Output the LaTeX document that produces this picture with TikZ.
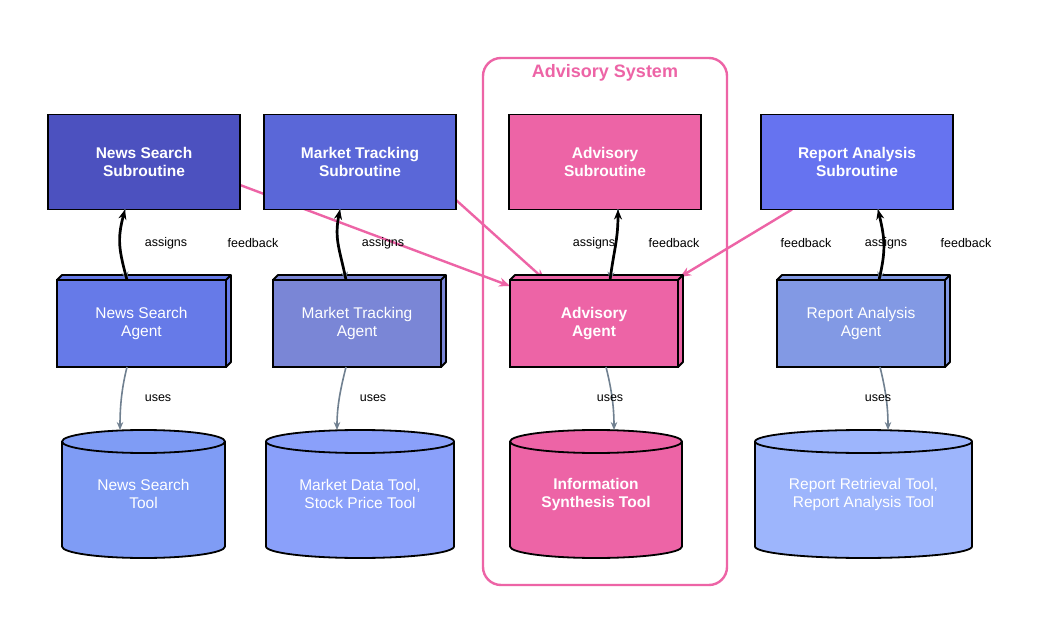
\documentclass[tikz,border=0pt]{standalone}
\usepackage{fontspec}
\setmainfont{Liberation Sans}
\usetikzlibrary{shapes.geometric, arrows.meta, positioning, calc}
\pgfdeclarelayer{paper}
\pgfdeclarelayer{background}
\pgfsetlayers{paper,background,main}

\definecolor{newssub}{HTML}{4C51BF}
\definecolor{marketsub}{HTML}{5A67D8}
\definecolor{reportsub}{HTML}{6673F0}
\definecolor{newsagent}{HTML}{667AE8}
\definecolor{marketagent}{HTML}{7A86D6}
\definecolor{reportagent}{HTML}{8299E4}
\definecolor{newstool}{HTML}{7F9CF5}
\definecolor{markettool}{HTML}{8AA0FA}
\definecolor{reporttool}{HTML}{9DB5FC}
\definecolor{advpink}{HTML}{ED64A6}
\definecolor{slate}{HTML}{708090}

\begin{document}
\begin{tikzpicture}[
    x=1pt, y=-1pt,
    font=\fontsize{15.5}{18}\selectfont,
    subroutine/.style={rectangle, draw, line width=1.8pt, outer sep=0pt, minimum width=192pt, minimum height=95pt, align=center, text=white, font=\fontsize{15.5}{18}\selectfont\bfseries},
    agent/.style={rectangle, draw, line width=1.8pt, outer sep=0pt, minimum width=168pt, minimum height=87pt, align=center, text=white},
    tool/.style={rectangle, outer sep=0pt, minimum height=128pt, align=center, text=white},
    edgelabel/.style={font=\fontsize{12.5}{14}\selectfont, text=black},
    feedback/.style={-{Stealth[length=10pt,width=8pt]}, line width=2.7pt},
    assign/.style={-{Stealth[length=8pt,width=7pt]}, line width=1.6pt, draw=slate},
    uses/.style={-{Stealth[length=8pt,width=6.5pt]}, line width=1.6pt, draw=slate},
    link/.style={-{Stealth[length=11pt,width=9pt]}, line width=2.4pt, draw=advpink}
]
\begin{pgfonlayer}{paper}
\fill[white] (0,0) rectangle (1041,644);
\end{pgfonlayer}
\useasboundingbox (0,0) rectangle (1041,644);

% advisory group
\node[draw=advpink, line width=2.4pt, rounded corners=18pt, minimum width=244pt, minimum height=527pt] (advbox) at (605,321.5) {};
\node[text=advpink, font=\fontsize{18}{20}\selectfont\bfseries] (advtitle) at ($(advbox.north)+(0,16)$) {Advisory System};

% subroutines
\node[subroutine, fill=newssub] (nsub) at (144,162) {News Search\\Subroutine};
\node[subroutine, fill=marketsub] (msub) at (360,162) {Market Tracking\\Subroutine};
\node[subroutine, fill=advpink] (asub) at (605,162) {Advisory\\Subroutine};
\node[subroutine, fill=reportsub] (rsub) at (857,162) {Report Analysis\\Subroutine};

% agents
\node[agent, fill=newsagent, minimum width=169pt] (nagent) at (141.5,323.5) {News Search\\Agent};
\node[agent, fill=marketagent] (magent) at (357,323.5) {Market Tracking\\Agent};
\node[agent, fill=advpink, font=\fontsize{15.5}{18}\selectfont\bfseries] (aagent) at (594,323.5) {Advisory\\Agent};
\node[agent, fill=reportagent] (ragent) at (861,323.5) {Report Analysis\\Agent};

\foreach \a/\c in {nagent/newsagent, magent/marketagent, aagent/advpink, ragent/reportagent}{
  \filldraw[fill=\c, line width=1.8pt, line join=round] (\a.north west) -- ++(5,-5) -- ($(\a.north east)+(5,-5)$) -- ($(\a.south east)+(5,-5)$) -- (\a.south east) -- (\a.north east) -- cycle;
  \draw[line width=1.8pt] (\a.north east) -- ++(5,-5);
}

% tools
\node[tool, minimum width=163pt] (ntool) at (143.5,494) {News Search\\Tool};
\node[tool, minimum width=188pt] (mtool) at (360,494) {Market Data Tool,\\Stock Price Tool};
\node[tool, minimum width=172pt, font=\fontsize{15.5}{18}\selectfont\bfseries] (stool) at (596,494) {Information\\Synthesis Tool};
\node[tool, minimum width=217pt] (rtool) at (863.5,494) {Report Retrieval Tool,\\Report Analysis Tool};

\begin{pgfonlayer}{background}
\foreach \n/\c/\r in {ntool/newstool/81.5, mtool/markettool/94, stool/advpink/86, rtool/reporttool/108.5}{
  \filldraw[fill=\c, line width=1.8pt] ($(\n.north west)+(0,11.5)$) -- ($(\n.south west)+(0,-11.5)$) arc[start angle=180, end angle=0, x radius=\r, y radius=11.5] -- ($(\n.north east)+(0,11.5)$) arc[start angle=0, end angle=-180, x radius=\r, y radius=11.5] -- cycle;
  \draw[line width=1.8pt] ($(\n.north west)+(0,11.5)$) arc[start angle=180, end angle=0, x radius=\r, y radius=11.5];
}

% links into the advisory agent
\draw[link] ($(nsub.east)+(0,23)$) -- ($(aagent.north west)+(0,6)$);
\draw[link] ($(msub.east)+(0,38)$) -- ($(aagent.north west)+(35,0)$);
\draw[link] ($(rsub.south west)+(31,0)$) -- ($(aagent.north east)+(2,-3)$);
\end{pgfonlayer}

% assigns / feedback
\draw[assign] ($(nsub.south)+(-19,0)$) .. controls +(-8,30) and +(-8,-30) .. ($(nagent.north)+(-14.5,0)$);
\draw[feedback] ($(nagent.north)+(-14.5,0)$) .. controls +(-8,-30) and +(-8,30) .. ($(nsub.south)+(-19,0)$);
\draw[assign] ($(msub.south)+(-20,0)$) .. controls +(-6,30) and +(-6,-30) .. ($(magent.north)+(-11,0)$);
\draw[feedback] ($(magent.north)+(-11,0)$) .. controls +(-6,-30) and +(-6,30) .. ($(msub.south)+(-20,0)$);
\draw[assign] ($(asub.south)+(13,0)$) .. controls +(0,30) and +(4,-30) .. ($(aagent.north)+(16,0)$);
\draw[feedback] ($(aagent.north)+(16,0)$) .. controls +(4,-30) and +(0,30) .. ($(asub.south)+(13,0)$);
\draw[assign] ($(rsub.south)+(21,0)$) .. controls +(7,30) and +(7,-30) .. ($(ragent.north)+(18,0)$);
\draw[feedback] ($(ragent.north)+(18,0)$) .. controls +(7,-30) and +(7,30) .. ($(rsub.south)+(21,0)$);

% uses
\draw[uses] ($(nagent.south)+(-14.5,0)$) .. controls +(-5,20) and +(0,-25) .. ($(ntool.north)+(-23.5,0)$);
\draw[uses] ($(magent.south)+(-11,0)$) .. controls +(-5,20) and +(0,-25) .. ($(mtool.north)+(-23,0)$);
\draw[uses] ($(aagent.south)+(12,0)$) .. controls +(5,20) and +(0,-25) .. ($(stool.north)+(18,0)$);
\draw[uses] ($(ragent.south)+(19,0)$) .. controls +(5,20) and +(0,-25) .. ($(rtool.north)+(24.5,0)$);

% edge labels
\node[edgelabel] (l1) at (166,243) {assigns};
\node[edgelabel] (l2) at (253,243) {feedback};
\node[edgelabel] (l3) at (383,243) {assigns};
\node[edgelabel] (l4) at (594,243) {assigns};
\node[edgelabel] (l5) at (674,243) {feedback};
\node[edgelabel] (l6) at (806,243) {feedback};
\node[edgelabel] (l7) at (886,243) {assigns};
\node[edgelabel] (l8) at (966,243) {feedback};
\node[edgelabel] (u1) at (158,398) {uses};
\node[edgelabel] (u2) at (373,398) {uses};
\node[edgelabel] (u3) at (610,398) {uses};
\node[edgelabel] (u4) at (878,398) {uses};
\end{tikzpicture}
\end{document}
